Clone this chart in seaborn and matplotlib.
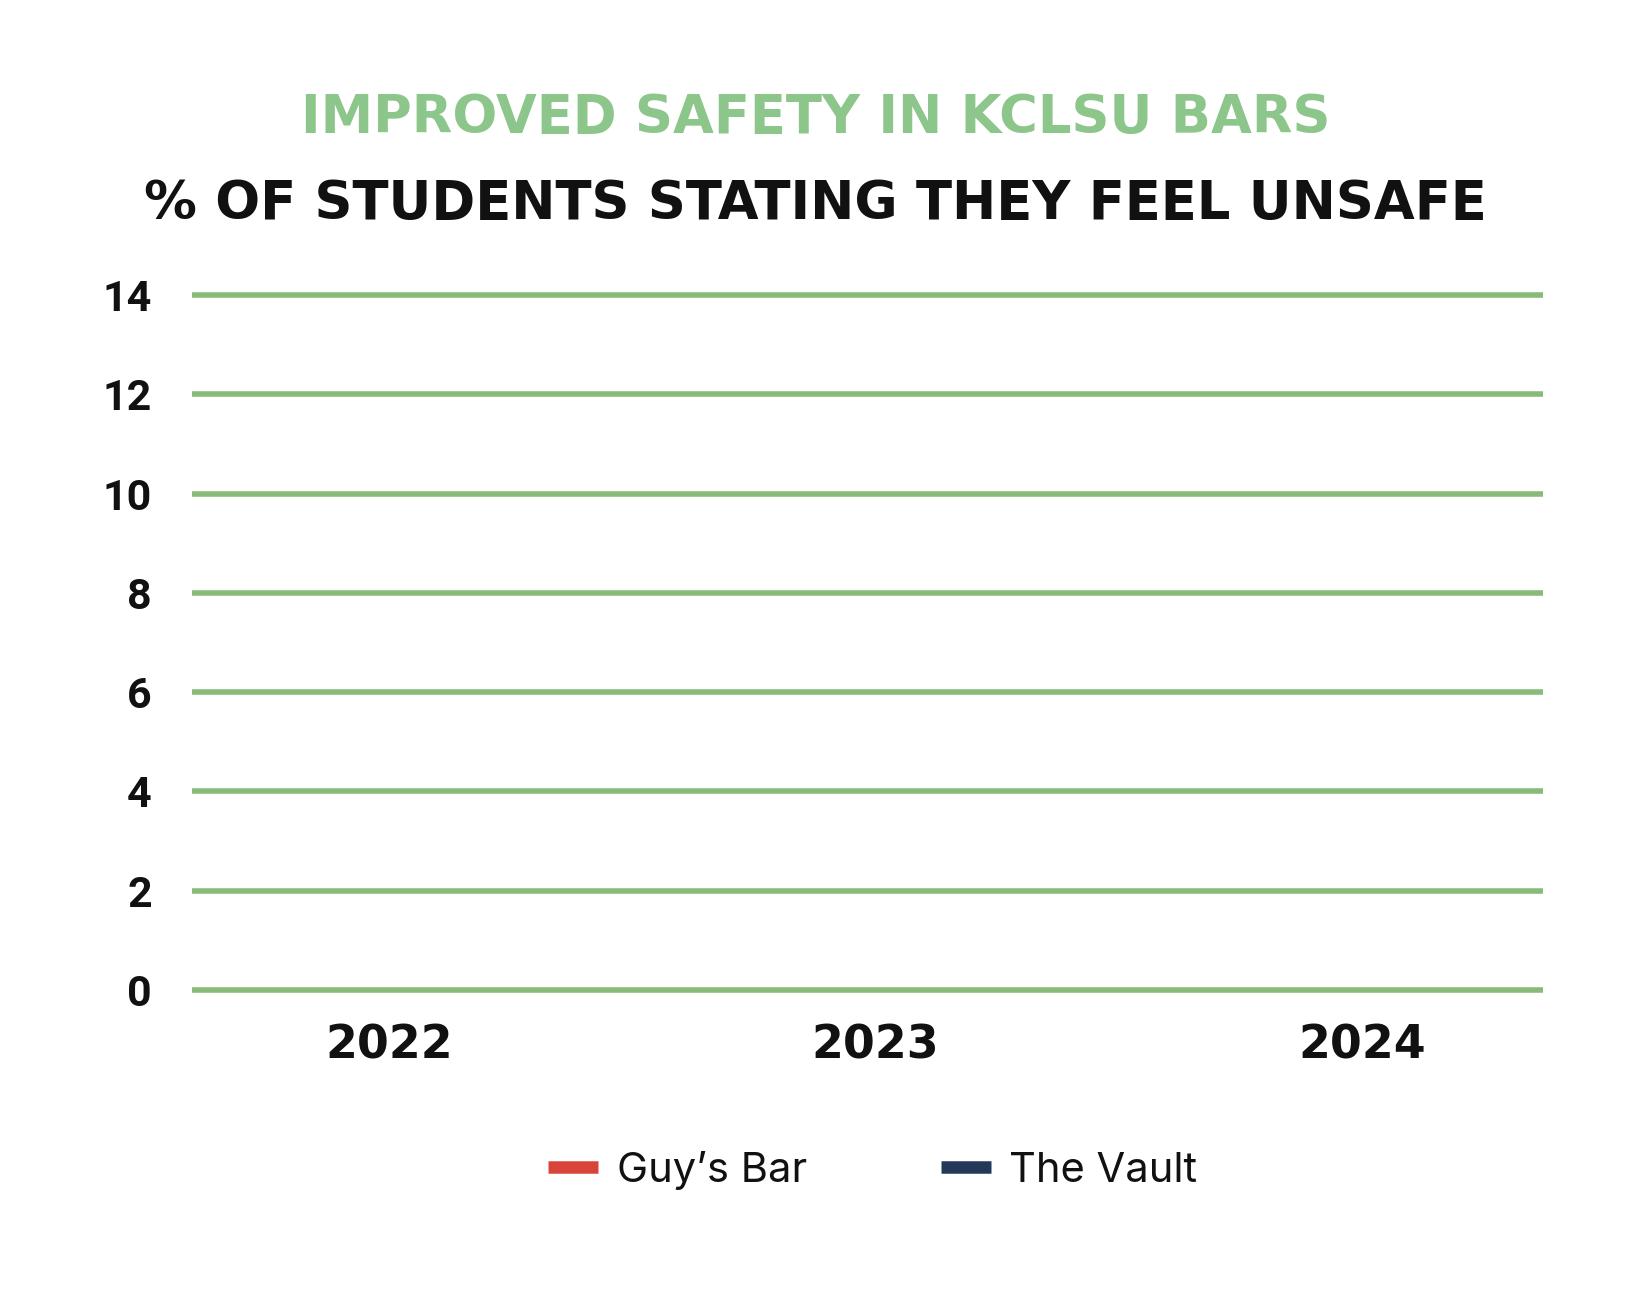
import numpy as np
import pandas as pd
import seaborn as sns
import matplotlib.pyplot as plt
from matplotlib.lines import Line2D

# data: the reference shows the axes and legend but no plotted values
years = ["2022", "2023", "2024"]
bars = ["Guy’s Bar", "The Vault"]
guys_bar = [np.nan, np.nan, np.nan]
the_vault = [np.nan, np.nan, np.nan]
y_ticks = [0, 2, 4, 6, 8, 10, 12, 14]

bar_colors = {"Guy’s Bar": "#d9443a", "The Vault": "#243859"}
grid_green = "#88bb78"
title_green = "#8dc68a"
ink = "#111111"

df = pd.DataFrame({
    "pos": list(range(len(years))) * 2,
    "year": years * 2,
    "bar": [bars[0]] * len(years) + [bars[1]] * len(years),
    "pct": guys_bar + the_vault,
})

sns.set_theme(style="white")
plt.rcParams['font.family'] = ['DejaVu Sans']

fig = plt.figure(figsize=(16.44, 12.91), dpi=100)
ax = fig.add_axes([192 / 1644, 1 - 993 / 1291, (1543 - 192) / 1644, 701 / 1291])

sns.lineplot(data=df.dropna(), x="pos", y="pct", hue="bar", palette=bar_colors,
             linewidth=4, ax=ax, legend=False)

ax.set_xlim(-0.405, 2.372)
ax.set_ylim(-0.06, 14.06)
ax.set_yticks(y_ticks)
ax.set_yticklabels([str(t) for t in y_ticks], fontsize=31, fontweight='bold',
                   color=ink, family=['Roboto', 'DejaVu Sans'])
ax.set_xticks(range(len(years)))
ax.set_xticklabels(years, fontsize=33, fontweight='bold', color=ink)
ax.tick_params(axis='y', length=0, pad=29)
ax.tick_params(axis='x', length=0, pad=22)
ax.set_xlabel('')
ax.set_ylabel('')
ax.yaxis.grid(True, color=grid_green, linewidth=4)
ax.xaxis.grid(False)
for s in ax.spines.values():
    s.set_visible(False)

fig.text(0.496, 1 - 133 / 1291, "IMPROVED SAFETY IN KCLSU BARS", ha='center',
         va='baseline', fontsize=38, fontweight='bold', color=title_green)
fig.text(0.496, 1 - 219 / 1291, "% OF STUDENTS STATING THEY FEEL UNSAFE", ha='center',
         va='baseline', fontsize=38, fontweight='bold', color=ink)

handles = [Line2D([0], [0], color=bar_colors[b], linewidth=9, solid_capstyle='butt') for b in bars]
leg = fig.legend(handles, bars, loc='center', bbox_to_anchor=(873 / 1644, 1 - 1170 / 1291),
                 ncol=2, frameon=False, handlelength=1.2, handletextpad=0.45,
                 columnspacing=3.2, prop={'family': ['Inter', 'DejaVu Sans'], 'size': 30})
for t in leg.get_texts():
    t.set_color(ink)

fig.savefig("out.png", dpi=100, facecolor='white')
